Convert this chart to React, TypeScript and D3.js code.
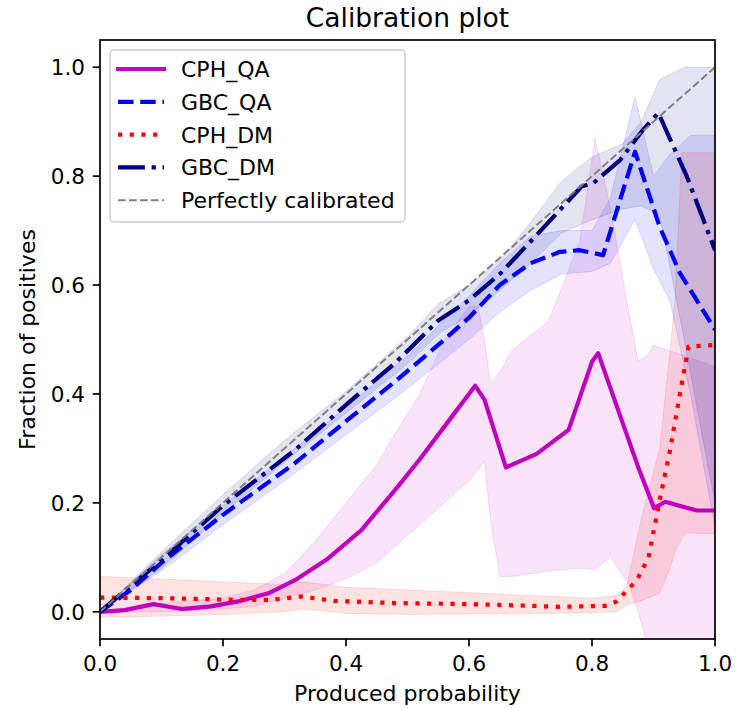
import React, { useEffect } from "react";
import * as d3 from "d3";

// mean curves (x = produced probability, y = fraction of positives)
const cphQaX = [0, 0.04, 0.087, 0.133, 0.18, 0.225, 0.274, 0.317, 0.371, 0.425, 0.48, 0.52, 0.56, 0.61, 0.625, 0.66, 0.71, 0.762, 0.8, 0.81, 0.875, 0.901, 0.919, 0.97, 1.0];
const cphQaY = [0, 0.003, 0.014, 0.005, 0.01, 0.019, 0.034, 0.058, 0.098, 0.15, 0.224, 0.28, 0.34, 0.415, 0.39, 0.265, 0.29, 0.334, 0.459, 0.475, 0.266, 0.19, 0.202, 0.186, 0.186];

const gbcQaX = [0, 0.05, 0.1, 0.2, 0.317, 0.4, 0.48, 0.55, 0.6, 0.65, 0.7, 0.748, 0.78, 0.818, 0.87, 0.91, 0.943, 1.0];
const gbcQaY = [0, 0.04, 0.09, 0.178, 0.273, 0.35, 0.423, 0.49, 0.54, 0.6, 0.64, 0.661, 0.664, 0.655, 0.845, 0.707, 0.622, 0.518];

const cphDmX = [0, 0.1, 0.22, 0.28, 0.328, 0.38, 0.48, 0.6, 0.7, 0.748, 0.824, 0.84, 0.873, 0.892, 0.91, 0.927, 0.943, 0.957, 1.0];
const cphDmY = [0.026, 0.025, 0.022, 0.022, 0.028, 0.02, 0.016, 0.014, 0.011, 0.009, 0.011, 0.019, 0.058, 0.1, 0.205, 0.297, 0.4, 0.487, 0.49];

const gbcDmX = [0, 0.1, 0.2, 0.317, 0.4, 0.48, 0.55, 0.6, 0.65, 0.7, 0.748, 0.783, 0.802, 0.846, 0.883, 0.908, 0.954, 1.0];
const gbcDmY = [0, 0.095, 0.195, 0.297, 0.38, 0.457, 0.535, 0.572, 0.62, 0.68, 0.738, 0.781, 0.787, 0.83, 0.885, 0.916, 0.8, 0.664];

// confidence bands
const cphQaBandX = [0, 0.1, 0.2, 0.25, 0.3, 0.35, 0.4, 0.45, 0.48, 0.52, 0.56, 0.6, 0.615, 0.625, 0.635, 0.65, 0.67, 0.73, 0.78, 0.805, 0.83, 0.86, 0.875, 0.89, 0.9, 0.95, 1.0];
const cphQaLo = [0, 0, 0.005, 0.01, 0.025, 0.04, 0.06, 0.09, 0.12, 0.16, 0.2, 0.24, 0.26, 0.277, 0.17, 0.065, 0.065, 0.075, 0.08, 0.077, 0.1, 0.05, 0, -0.06, -0.06, -0.06, -0.06];
const cphQaHi = [0, 0.015, 0.025, 0.04, 0.07, 0.13, 0.2, 0.27, 0.328, 0.4, 0.5, 0.56, 0.56, 0.5, 0.42, 0.44, 0.48, 0.535, 0.68, 0.87, 0.74, 0.55, 0.46, 0.47, 0.49, 0.47, 0.45];

const gbcQaBandX = [0, 0.1, 0.2, 0.3, 0.4, 0.5, 0.6, 0.65, 0.7, 0.75, 0.8, 0.83, 0.87, 0.9, 0.927, 0.96, 1.0];
const gbcQaLo = [0, 0.075, 0.16, 0.24, 0.325, 0.41, 0.5, 0.55, 0.59, 0.62, 0.625, 0.64, 0.72, 0.63, 0.57, 0.4, 0.155];
const gbcQaHi = [0, 0.105, 0.195, 0.285, 0.375, 0.47, 0.58, 0.64, 0.69, 0.7, 0.7, 0.76, 0.946, 0.8, 0.84, 0.875, 0.875];

const cphDmBandX = [0, 0.1, 0.2, 0.3, 0.33, 0.4, 0.5, 0.6, 0.7, 0.8, 0.84, 0.856, 0.88, 0.91, 0.927, 0.935, 0.946, 0.954, 1.0];
const cphDmLo = [-0.01, -0.008, -0.005, 0, 0.005, -0.003, -0.005, -0.004, -0.003, -0.002, 0, 0.012, 0.02, 0.034, 0.08, 0.11, 0.135, 0.145, 0.143];
const cphDmHi = [0.065, 0.06, 0.055, 0.05, 0.055, 0.045, 0.04, 0.035, 0.03, 0.025, 0.03, 0.046, 0.17, 0.3, 0.48, 0.572, 0.843, 0.843, 0.843];

const gbcDmBandX = [0, 0.1, 0.2, 0.3, 0.4, 0.5, 0.55, 0.6, 0.65, 0.7, 0.75, 0.8, 0.85, 0.88, 0.91, 0.95, 1.0];
const gbcDmLo = [0, 0.08, 0.18, 0.275, 0.365, 0.455, 0.51, 0.545, 0.59, 0.64, 0.695, 0.72, 0.74, 0.745, 0.73, 0.5, 0.2];
const gbcDmHi = [0, 0.11, 0.215, 0.315, 0.405, 0.505, 0.565, 0.6, 0.645, 0.715, 0.79, 0.835, 0.86, 0.9, 0.977, 1.0, 1.0];

const ticks = [0, 0.2, 0.4, 0.6, 0.8, 1.0];

const series = [
  { name: "CPH_QA", xs: cphQaX, ys: cphQaY, color: "#bf00bf", dash: null },
  { name: "GBC_QA", xs: gbcQaX, ys: gbcQaY, color: "#0000ff", dash: "15.5 6.7" },
  { name: "CPH_DM", xs: cphDmX, ys: cphDmY, color: "#ff0000", dash: "4.2 7.5" },
  { name: "GBC_DM", xs: gbcDmX, ys: gbcDmY, color: "#000080", dash: "26.9 6.7 4.2 6.7" },
];

const bands = [
  { xs: cphQaBandX, lo: cphQaLo, hi: cphQaHi, color: "#bf00bf" },
  { xs: gbcQaBandX, lo: gbcQaLo, hi: gbcQaHi, color: "#0000ff" },
  { xs: cphDmBandX, lo: cphDmLo, hi: cphDmHi, color: "#ff0000" },
  { xs: gbcDmBandX, lo: gbcDmLo, hi: gbcDmHi, color: "#000080" },
];

const W = 745;
const H = 708;
const left = 100, right = 715, top = 40, bottom = 639;
const FONT = "DejaVu Sans, sans-serif";

export default function App() {
  useEffect(() => {
    document.body.style.margin = "0";
  }, []);

  const x = d3.scaleLinear().domain([0, 1]).range([left, right]);
  const y = d3.scaleLinear().domain([-0.05, 1.05]).range([bottom, top]);

  const line = d3.line<number[]>().x(d => x(d[0])).y(d => y(d[1]));
  const area = d3.area<number[]>().x(d => x(d[0])).y0(d => y(d[1])).y1(d => y(d[2]));

  const legendItems = [
    ...series.map(s => ({ name: s.name, color: s.color, dash: s.dash, width: 4.2 })),
    { name: "Perfectly calibrated", color: "#808080", dash: "7.7 3.3", width: 2 },
  ];

  return (
    <svg width={W} height={H} style={{ display: "block" }} fontFamily={FONT}>
      <rect width={W} height={H} fill="#ffffff" />
      <defs>
        <clipPath id="plotClip">
          <rect x={left} y={top} width={right - left} height={bottom - top} />
        </clipPath>
      </defs>

      <text x={(left + right) / 2} y={27} textAnchor="middle" fontSize={26.5} fill="#000">
        Calibration plot
      </text>

      <g clipPath="url(#plotClip)">
        {bands.map((b, i) => (
          <path key={"b" + i}
            d={area(b.xs.map((v, j) => [v, b.lo[j], b.hi[j]])) || ""}
            fill={b.color} fillOpacity={0.11} stroke={b.color} strokeOpacity={0.12} strokeWidth={1} />
        ))}
        {series.map(s => (
          <path key={s.name}
            d={line(s.xs.map((v, j) => [v, s.ys[j]])) || ""}
            fill="none" stroke={s.color} strokeWidth={4.2}
            strokeDasharray={s.dash || undefined}
            strokeLinejoin="round" strokeLinecap={s.dash ? "butt" : "square"} />
        ))}
        <path d={line([[0, 0], [1, 1]]) || ""} fill="none" stroke="#808080"
          strokeWidth={2} strokeDasharray="7.7 3.3" />
      </g>

      {/* frame */}
      <rect x={left} y={top} width={right - left} height={bottom - top}
        fill="none" stroke="#000" strokeWidth={1.7} />

      {/* x axis */}
      {ticks.map(t => (
        <g key={"x" + t}>
          <line x1={x(t)} x2={x(t)} y1={bottom} y2={bottom + 7.3} stroke="#000" strokeWidth={1.7} />
          <text x={x(t)} y={bottom + 32} textAnchor="middle" fontSize={21.5}>{t.toFixed(1)}</text>
        </g>
      ))}
      <text x={(left + right) / 2} y={701} textAnchor="middle" fontSize={22}>Produced probability</text>

      {/* y axis */}
      {ticks.map(t => (
        <g key={"y" + t}>
          <line x1={left - 7.3} x2={left} y1={y(t)} y2={y(t)} stroke="#000" strokeWidth={1.7} />
          <text x={left - 15} y={y(t)} dy="0.36em" textAnchor="end" fontSize={21.5}>{t.toFixed(1)}</text>
        </g>
      ))}
      <text transform={`translate(35, ${(top + bottom) / 2}) rotate(-90)`} textAnchor="middle" fontSize={22}>
        Fraction of positives
      </text>

      {/* legend */}
      <rect x={110} y={50} width={295} height={172} rx={4} fill="#ffffff" fillOpacity={0.8}
        stroke="#cccccc" strokeWidth={1.5} />
      {legendItems.map((it, i) => {
        const cy = 69 + i * 32.8;
        return (
          <g key={it.name}>
            <line x1={118} x2={164} y1={cy} y2={cy} stroke={it.color} strokeWidth={it.width}
              strokeDasharray={it.dash || undefined} strokeLinecap={it.dash ? "butt" : "square"} />
            <text x={181} y={cy} dy="0.36em" fontSize={22}>{it.name}</text>
          </g>
        );
      })}
    </svg>
  );
}
